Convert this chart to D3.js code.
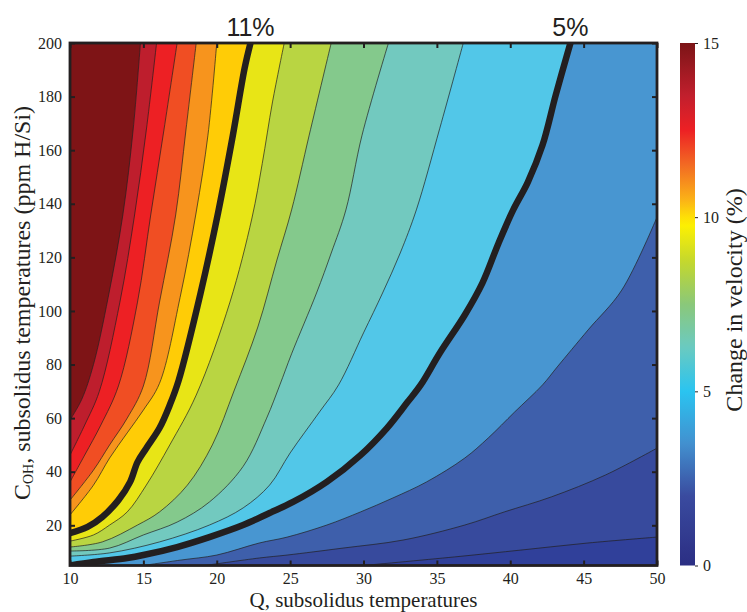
<!DOCTYPE html>
<html>
<head>
<meta charset="utf-8">
<script src="https://cdn.jsdelivr.net/npm/d3@7"></script>
<style>
  body { margin: 0; background: #fff; }
  text { font-family: "Liberation Serif", "Times New Roman", serif; fill: #231f20; }
</style>
</head>
<body>
<svg id="chart" width="747" height="612"></svg>
<script>
// contour lines as [Q, C] pairs, lowest level first
const c1 = [[30.0, 5], [36.2, 8.2], [40.8, 10.8], [45.3, 13.4], [50, 15.6]];
const c2 = [[19.2, 5], [22.9, 7.8], [24.8, 8.9], [28.6, 11.5], [32.7, 14.5], [36.9, 20.1], [39.6, 25.0], [42.8, 30.6], [46.5, 38.8], [50, 48.8]];
const c3 = [[15.0, 5], [17.5, 7.0], [20.0, 8.9], [22.9, 13.4], [24.8, 15.6], [27.5, 20.1], [29.8, 25.0], [32.0, 30.2], [34.3, 36.2], [36.9, 45.1], [38.5, 52.6], [40.3, 62.3], [42.2, 72.4], [43.2, 79.1], [45.3, 92.9], [47.6, 107.8], [50, 135.0]];
const c5pct = [[10, 5], [11.6, 6.3], [13.9, 7.8], [15.0, 8.9], [17.3, 11.9], [19.5, 15.6], [21.8, 20.1], [23.6, 24.6], [25.2, 28.7], [27.5, 36.2], [29.8, 46.2], [31.6, 56.3], [33.0, 66.0], [33.9, 72.4], [35.2, 84.3], [36.9, 98.5], [38.1, 110.4], [39.2, 125.3], [40.2, 137.7], [41.2, 148.1], [42.2, 161.9], [43.1, 180.6], [44.1, 200]];
const cTealCyan = [[10, 8.5], [12.7, 9.7], [16.1, 13.8], [19.5, 20.1], [21.8, 26.5], [23.6, 35.0], [25.0, 47.0], [27.0, 62.3], [28.3, 72.4], [30.0, 91.8], [31.3, 106.7], [32.5, 121.6], [33.6, 137.7], [35.2, 168.2], [36.8, 200]];
const cGreenTeal = [[10, 10.4], [12.7, 11.5], [15.0, 16.4], [17.3, 21.2], [19.5, 28.7], [21.8, 42.0], [23.4, 60.0], [24.3, 72.4], [25.1, 84.0], [26.8, 106.7], [27.8, 121.6], [28.8, 137.7], [29.9, 165.6], [31.7, 200]];
const cYgGreen = [[10, 11.9], [12.2, 13.8], [14.6, 20.1], [16.1, 25.0], [18.0, 35.0], [19.7, 50.0], [21.2, 70.5], [22.8, 94.0], [24.1, 119.0], [25.1, 137.7], [26.3, 165.6], [27.8, 200]];
const cYellowYg = [[10, 14.1], [11.6, 16.4], [12.7, 20.1], [13.9, 25.0], [15.2, 35.0], [16.8, 50.0], [18.6, 68.6], [20.9, 103.3], [22.4, 134.7], [23.1, 155.0], [23.8, 178.0], [24.6, 200]];
const c11pct = [[10, 17.1], [11.2, 19.4], [12.2, 23.1], [13.3, 29.4], [14.1, 36.2], [14.6, 43.6], [15.2, 48.8], [16.1, 56.3], [16.8, 64.9], [17.4, 74.0], [18.9, 106.7], [20.1, 136.9], [21.1, 165.6], [21.9, 190.6], [22.3, 200]];
const cOrangeGold = [[10, 23.9], [11.6, 35.0], [12.7, 45.1], [13.9, 54.5], [15.0, 63.0], [16.1, 73.0], [17.5, 105.0], [18.6, 136.9], [19.4, 165.6], [20.0, 200]];
const cOrOrange = [[10, 29.4], [11.6, 40.6], [12.7, 50.0], [13.9, 60.0], [15.0, 72.0], [16.1, 103.3], [17.2, 135.8], [17.9, 167.5], [18.6, 200]];
const cRedOr = [[10, 36.2], [11.0, 46.2], [12.1, 57.4], [13.3, 72.0], [14.6, 103.3], [15.5, 135.8], [16.4, 167.5], [17.3, 200]];
const cCrimsonRed = [[10, 46.2], [11.0, 57.4], [12.0, 70.0], [13.4, 103.3], [14.4, 135.8], [15.2, 167.5], [15.9, 200]];
const cDarkCrimson = [[10, 59.3], [10.8, 67.0], [11.6, 80.0], [12.6, 105.0], [13.6, 135.8], [14.3, 167.5], [14.8, 200]];

const contours = [c1, c2, c3, c5pct, cTealCyan, cGreenTeal, cYgGreen, cYellowYg, c11pct, cOrangeGold, cOrOrange, cRedOr, cCrimsonRed, cDarkCrimson];
// fill of each band, lowest band first (one more than the contour count)
const bandColors = ["#30409a", "#374a9d", "#3e5fab", "#4896d1", "#52c7e8", "#72c9bf", "#84c98c", "#b9d542", "#e8e516", "#ffcc06", "#f7941d", "#f04e23", "#ed2024", "#be1e2d", "#7e1416"];
const thickLines = [c5pct, c11pct];
const thickLabels = ["5%", "11%"];

const qTicks = [10, 15, 20, 25, 30, 35, 40, 45, 50];
const cTicks = [20, 40, 60, 80, 100, 120, 140, 160, 180, 200];
const barTicks = [0, 5, 10, 15];
const barStops = [0, 2, 3.5, 5, 6.3, 7.5, 8.7, 9.8, 10.5, 11.5, 12.5, 13.5, 15];
const barColors = ["#2b2e83", "#3a4b9f", "#4290cf", "#2ac4f0", "#6ccabf", "#8ac87a", "#c2d72f", "#fff100", "#fbb217", "#f26a23", "#ed2024", "#c11f2d", "#7b1416"];

const svg = d3.select("#chart");
const boxL = 70, boxR = 657, boxT = 43, boxB = 565.5;

const x = d3.scaleLinear().domain([10, 50]).range([boxL, boxR]);
const y = d3.scaleLinear().domain([5, 200]).range([boxB, boxT]);

svg.append("clipPath").attr("id", "plotClip")
  .append("rect").attr("x", boxL).attr("y", boxT).attr("width", boxR - boxL).attr("height", boxB - boxT);

const plot = svg.append("g").attr("clip-path", "url(#plotClip)");

// lowest band fills the whole box, each level then paints the area above-left of its line
plot.append("rect").attr("x", boxL).attr("y", boxT).attr("width", boxR - boxL).attr("height", boxB - boxT)
  .attr("fill", bandColors[0]);

const line = d3.line().x(d => x(d[0])).y(d => y(d[1])).curve(d3.curveCatmullRom.alpha(0.5));
contours.forEach((c, i) => {
  // close round the top-left corner of the box
  let d = line(c) + `L${x(50)},${y(200)}L${x(10)},${y(200)}L${x(10)},${y(5)}Z`;
  plot.append("path").attr("d", d).attr("fill", bandColors[i + 1]);
});

contours.forEach(c => {
  plot.append("path").attr("d", line(c)).attr("fill", "none")
    .attr("stroke", "#231f20").attr("stroke-width", 0.7);
});

thickLines.forEach(c => {
  plot.append("path").attr("d", line(c)).attr("fill", "none")
    .attr("stroke", "#231f20").attr("stroke-width", 6.5).attr("stroke-linejoin", "round");
});

// labels of the thick lines above the box
thickLines.forEach((c, i) => {
  let end = c[c.length - 1];
  svg.append("text").attr("x", x(end[0])).attr("y", boxT - 7)
    .attr("text-anchor", "middle").style("font-family", "'Liberation Sans', Arial, sans-serif")
    .style("font-size", "25px").text(thickLabels[i]);
});

// axes, ticks pointing inward like matlab
const ax = svg.append("g").attr("transform", `translate(0,${boxB})`)
  .call(d3.axisBottom(x).tickValues(qTicks).tickSize(-5).tickPadding(7));
const axTop = svg.append("g").attr("transform", `translate(0,${boxT})`)
  .call(d3.axisTop(x).tickValues(qTicks).tickSize(-5).tickFormat(""));
const ay = svg.append("g").attr("transform", `translate(${boxL},0)`)
  .call(d3.axisLeft(y).tickValues(cTicks).tickSize(-5).tickPadding(8));
const ayRight = svg.append("g").attr("transform", `translate(${boxR},0)`)
  .call(d3.axisRight(y).tickValues(cTicks).tickSize(-5).tickFormat(""));

[ax, axTop, ay, ayRight].forEach(g => {
  g.select(".domain").remove();
  g.selectAll(".tick line").attr("stroke", "#231f20").attr("stroke-width", 2);
  g.selectAll(".tick text").style("font-family", "'Liberation Serif', serif").style("font-size", "16px").attr("fill", "#231f20");
});

svg.append("rect").attr("x", boxL).attr("y", boxT).attr("width", boxR - boxL).attr("height", boxB - boxT)
  .attr("fill", "none").attr("stroke", "#231f20").attr("stroke-width", 2.8);

svg.append("text").attr("x", (boxL + boxR) / 2).attr("y", 607)
  .attr("text-anchor", "middle").style("font-size", "21px").text("Q, subsolidus temperatures");

const yLab = svg.append("text").attr("transform", `translate(30,303) rotate(-90)`)
  .attr("text-anchor", "middle").style("font-size", "24px");
yLab.append("tspan").text("C");
yLab.append("tspan").attr("dy", 3).style("font-size", "14px").text("OH");
yLab.append("tspan").attr("dy", -3).text(", subsolidus temperatures (ppm H/Si)");

// colour bar
const barX = 680, barW = 15;
const cb = d3.scaleLinear().domain([0, 15]).range([boxB, boxT]);
const barColor = d3.scaleLinear().domain(barStops).range(barColors);

const grad = svg.append("defs").append("linearGradient").attr("id", "barGrad")
  .attr("x1", 0).attr("y1", 1).attr("x2", 0).attr("y2", 0);
d3.range(0, 15.01, 0.25).forEach(v => {
  grad.append("stop").attr("offset", v / 15).attr("stop-color", barColor(v));
});
svg.append("rect").attr("x", barX).attr("y", boxT).attr("width", barW).attr("height", boxB - boxT)
  .attr("fill", "url(#barGrad)");

const ab = svg.append("g").attr("transform", `translate(${barX + barW},0)`)
  .call(d3.axisRight(cb).tickValues(barTicks).tickSize(3).tickPadding(5));
ab.select(".domain").remove();
ab.selectAll(".tick line").attr("stroke", "#231f20");
ab.selectAll(".tick text").style("font-family", "'Liberation Serif', serif").style("font-size", "16px").attr("fill", "#231f20");

svg.append("text").attr("transform", `translate(742,300) rotate(-90)`)
  .attr("text-anchor", "middle").style("font-size", "24px").text("Change in velocity (%)");
</script>
</body>
</html>
